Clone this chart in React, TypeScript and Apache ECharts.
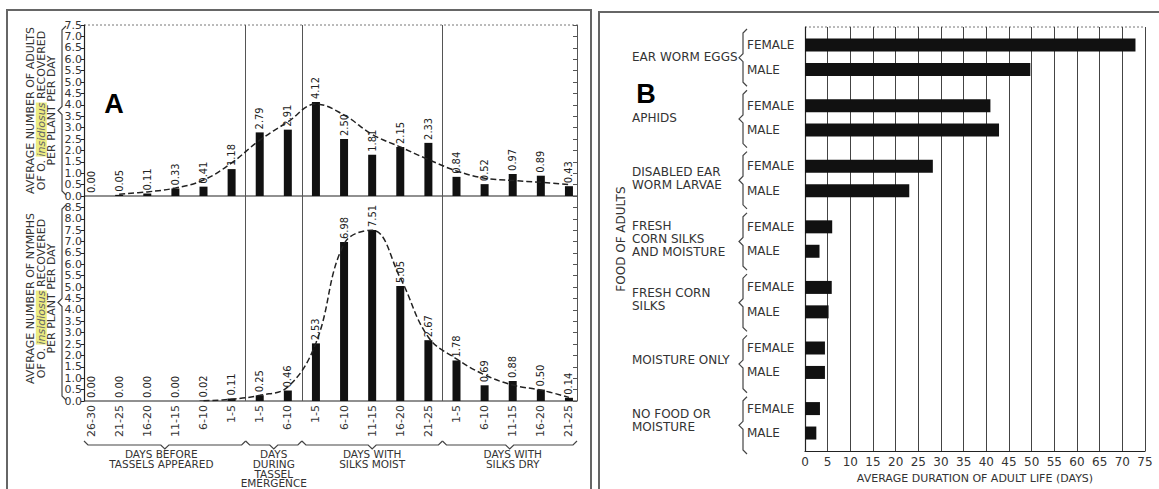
import React, { useEffect, useRef } from "react";
import * as echarts from "echarts";

// ---------------- Panel A data ----------------
const periods = ["26-30", "21-25", "16-20", "11-15", "6-10", "1-5", "1-5", "6-10", "1-5", "6-10", "11-15", "16-20", "21-25", "1-5", "6-10", "11-15", "16-20", "21-25"];
const adultsRecovered = [0.0, 0.05, 0.11, 0.33, 0.41, 1.18, 2.79, 2.91, 4.12, 2.5, 1.81, 2.15, 2.33, 0.84, 0.52, 0.97, 0.89, 0.43];
const adultsTrend = [null, 0.08, 0.18, 0.35, 0.7, 1.45, 2.45, 3.25, 4.03, 3.55, 2.7, 2.15, 1.6, 1.1, 0.78, 0.68, 0.6, 0.5];
const nymphsRecovered = [0.0, 0.0, 0.0, 0.0, 0.02, 0.11, 0.25, 0.46, 2.53, 6.98, 7.51, 5.05, 2.67, 1.78, 0.69, 0.88, 0.5, 0.14];
const nymphsTrend = [null, null, null, null, 0.01, 0.08, 0.25, 0.62, 2.55, 6.9, 7.5, 5.4, 2.8, 1.85, 1.15, 0.7, 0.48, 0.16];
const stageNames = ["DAYS BEFORE\nTASSELS APPEARED", "DAYS\nDURING\nTASSEL\nEMERGENCE", "DAYS WITH\nSILKS MOIST", "DAYS WITH\nSILKS DRY"];
const stageStart = [0, 6, 8, 13, 18];

// ---------------- Panel B data ----------------
const foods = ["EAR WORM EGGS", "APHIDS", "DISABLED EAR\nWORM LARVAE", "FRESH\nCORN SILKS\nAND MOISTURE", "FRESH CORN\nSILKS", "MOISTURE ONLY", "NO FOOD OR\nMOISTURE"];
const femaleLife = [72.9, 40.9, 28.2, 6.0, 5.9, 4.4, 3.3];
const maleLife = [49.7, 42.8, 23.0, 3.2, 5.2, 4.4, 2.5];

const SANS = "'DejaVu Sans', 'Noto Sans', sans-serif";
const NARROW = "'DejaVu Sans Condensed', 'Liberation Sans Narrow', 'DejaVu Sans', sans-serif";
const INK = "#222";
const TEXT = "#333";

// layout
const A_LEFT = 77;
const A_WIDTH = 506;
const A_AXIS_X = 84;
const A_RIGHT_X = 577;
const A_TOP = 25;
const A_MID = 196;
const A_BOTTOM = 401;
const BAND = A_WIDTH / periods.length;
const B_LEFT = 805;
const B_TOP = 27;
const B_WIDTH = 340;
const B_HEIGHT = 429;

const braceStyle = { stroke: "#444", fill: "none", lineWidth: 1.2 };
function hBrace(x1: number, x2: number, y: number) {
  const m = (x1 + x2) / 2;
  return {
    type: "polyline",
    silent: true,
    shape: { points: [[x1, y - 4], [x1 + 4, y], [m - 4, y], [m, y + 4], [m + 4, y], [x2 - 4, y], [x2, y - 4]] },
    style: braceStyle,
  };
}
function vBrace(x: number, y1: number, y2: number) {
  const m = (y1 + y2) / 2;
  return {
    type: "polyline",
    silent: true,
    shape: { points: [[x + 4, y1], [x, y1 + 4], [x, m - 4], [x - 4, m], [x, m + 4], [x, y2 - 4], [x + 4, y2]] },
    style: braceStyle,
  };
}
function hLine(x1: number, x2: number, y: number, dashed = false) {
  return {
    type: "line",
    silent: true,
    shape: { x1, y1: y, x2, y2: y },
    style: { stroke: dashed ? "#777" : INK, lineWidth: dashed ? 1 : 1.2, lineDash: dashed ? [2, 2] : null },
  };
}

const nameRich = {
  i: { fontStyle: "italic", backgroundColor: "#ecec82", color: "#666", fontSize: 11, lineHeight: 10.5, fontFamily: SANS },
};

function leftAxis(grid: number, max: number, name: string) {
  return {
    type: "value",
    gridIndex: grid,
    min: 0,
    max,
    interval: 0.5,
    position: "left",
    offset: A_LEFT - A_AXIS_X,
    axisLine: { show: true, lineStyle: { color: INK, width: 1.2 } },
    axisTick: { show: true, length: 3, lineStyle: { color: INK } },
    axisLabel: {
      margin: 2,
      fontSize: 11,
      lineHeight: 11,
      showMinLabel: true,
      showMaxLabel: true,
      color: TEXT,
      fontFamily: SANS,
      formatter: (v: number) => (v > 8.9 ? "" : v.toFixed(1)),
    },
    splitLine: { show: false },
    name,
    nameLocation: "middle",
    nameRotate: 90,
    nameGap: 27,
    nameTextStyle: { fontSize: 11, lineHeight: 10.5, color: TEXT, fontFamily: SANS, rich: nameRich },
  };
}
function rightAxis(grid: number, max: number) {
  return {
    type: "value",
    gridIndex: grid,
    min: 0,
    max,
    interval: 0.5,
    position: "right",
    offset: -(A_LEFT + A_WIDTH - A_RIGHT_X),
    axisLine: { show: true, lineStyle: { color: "#555", width: 1 } },
    axisTick: { show: true, inside: true, length: 4, lineStyle: { color: "#555" } },
    axisLabel: { show: false },
    splitLine: { show: false },
  };
}
function stageAxis(grid: number, showLabels: boolean) {
  return {
    type: "category",
    gridIndex: grid,
    data: periods.map((_, i) => String(i)),
    boundaryGap: true,
    axisLine: { show: false },
    axisTick: { show: false },
    axisLabel: {
      show: showLabels,
      interval: 0,
      rotate: 90,
      margin: 4,
      fontSize: 11,
      color: TEXT,
      fontFamily: SANS,
      formatter: (_: string, i: number) => periods[i],
    },
    splitLine: {
      show: true,
      interval: (i: number) => i > 0 && stageStart.indexOf(i) >= 0,
      showMaxLine: false,
      lineStyle: { color: "#555", width: 1 },
    },
  };
}
function barLabel() {
  return {
    show: true,
    position: "top",
    rotate: 90,
    align: "left",
    verticalAlign: "middle",
    distance: 3,
    fontSize: 11,
    color: INK,
    fontFamily: NARROW,
    formatter: (p: any) => Number(p.value).toFixed(2),
  };
}
function trend(data: (number | null)[], x: number, y: number) {
  return {
    type: "line",
    xAxisIndex: x,
    yAxisIndex: y,
    data,
    smooth: 0.4,
    symbol: "none",
    connectNulls: false,
    z: 5,
    lineStyle: { color: INK, width: 1.5, type: [6, 3] },
  };
}

const graphics: any[] = [
  { type: "rect", silent: true, shape: { x: 7, y: 10, width: 584, height: 500 }, style: { fill: "none", stroke: "#666", lineWidth: 2 } },
  { type: "rect", silent: true, shape: { x: 599, y: 12, width: 580, height: 500 }, style: { fill: "none", stroke: "#666", lineWidth: 2 } },
  { type: "text", silent: true, x: 114, y: 104, style: { text: "A", fill: "#000", fontSize: 27, fontWeight: "bold", fontFamily: "'Liberation Sans', Arial, sans-serif", align: "center", verticalAlign: "middle" } },
  { type: "text", silent: true, x: 646, y: 94, style: { text: "B", fill: "#000", fontSize: 27, fontWeight: "bold", fontFamily: "'Liberation Sans', Arial, sans-serif", align: "center", verticalAlign: "middle" } },
  hLine(A_AXIS_X, A_RIGHT_X, A_TOP, true),
  hLine(A_AXIS_X, A_RIGHT_X, A_MID),
  hLine(A_AXIS_X, A_RIGHT_X, A_BOTTOM),
  hLine(B_LEFT, B_LEFT + B_WIDTH, B_TOP, true),
  vBrace(62, A_TOP + 1, A_MID - 1),
  vBrace(62, A_MID + 9, A_BOTTOM - 1),
];
for (let g = 0; g < stageNames.length; g++) {
  const x1 = g === 0 ? A_AXIS_X : A_LEFT + BAND * stageStart[g];
  const x2 = g === stageNames.length - 1 ? A_RIGHT_X : A_LEFT + BAND * stageStart[g + 1];
  graphics.push(hBrace(x1, x2, 445));
  graphics.push({
    type: "text",
    silent: true,
    x: A_LEFT + (BAND * (stageStart[g] + stageStart[g + 1])) / 2,
    y: 449,
    style: { text: stageNames[g], fill: TEXT, fontSize: 10.5, lineHeight: 9.8, fontFamily: SANS, align: "center", verticalAlign: "top" },
  });
}
const bBand = B_HEIGHT / foods.length;
for (let g = 0; g < foods.length; g++) {
  graphics.push(vBrace(743, B_TOP + bBand * g + 2, B_TOP + bBand * (g + 1) - 2));
}

const option: any = {
  animation: false,
  backgroundColor: "#fff",
  grid: [
    { left: A_LEFT, top: A_TOP, width: A_WIDTH, height: A_MID - A_TOP },
    { left: A_LEFT, top: A_MID, width: A_WIDTH, height: A_BOTTOM - A_MID },
    { left: B_LEFT, top: B_TOP, width: B_WIDTH, height: B_HEIGHT },
  ],
  xAxis: [
    stageAxis(0, false),
    stageAxis(1, true),
    {
      type: "value",
      gridIndex: 2,
      min: 0,
      max: 75,
      interval: 5,
      axisLine: { show: true, lineStyle: { color: INK, width: 1.2 } },
      axisTick: { show: false },
      axisLabel: { fontSize: 12, color: TEXT, margin: 5, fontFamily: SANS },
      splitLine: { show: true, lineStyle: { color: "#444", width: 1 } },
      name: "AVERAGE DURATION OF ADULT LIFE (DAYS)",
      nameLocation: "middle",
      nameGap: 19,
      nameTextStyle: { fontSize: 11, color: TEXT, fontFamily: SANS },
    },
  ],
  yAxis: [
    leftAxis(0, 7.5, "AVERAGE NUMBER OF ADULTS\nOF O. {i|insidiosus} RECOVERED\nPER PLANT PER DAY"),
    rightAxis(0, 7.5),
    leftAxis(1, 9, "AVERAGE NUMBER OF NYMPHS\nOF O. {i|insidiosus} RECOVERED\nPER PLANT PER DAY"),
    rightAxis(1, 9),
    {
      type: "category",
      gridIndex: 2,
      data: foods,
      inverse: true,
      axisLine: { show: true, lineStyle: { color: INK, width: 1.2 } },
      axisTick: { show: false },
      axisLabel: { interval: 0, align: "left", margin: 173, fontSize: 12, lineHeight: 13, color: TEXT, fontFamily: SANS },
      splitLine: { show: false },
      name: "FOOD OF ADULTS",
      nameLocation: "middle",
      nameRotate: 90,
      nameGap: 178,
      nameTextStyle: { fontSize: 12, color: TEXT, fontFamily: SANS },
    },
  ],
  series: [
    { type: "bar", xAxisIndex: 0, yAxisIndex: 0, data: adultsRecovered, barWidth: 8, itemStyle: { color: "#111" }, label: barLabel() },
    trend(adultsTrend, 0, 0),
    { type: "bar", xAxisIndex: 1, yAxisIndex: 2, data: nymphsRecovered, barWidth: 8, itemStyle: { color: "#111" }, label: barLabel() },
    trend(nymphsTrend, 1, 2),
    {
      type: "bar",
      name: "FEMALE",
      xAxisIndex: 2,
      yAxisIndex: 4,
      data: femaleLife,
      barWidth: 13,
      barGap: "88%",
      itemStyle: { color: "#111" },
      label: { show: true, position: [-58, 6.5], formatter: "FEMALE", align: "left", verticalAlign: "middle", fontSize: 12, color: TEXT, fontFamily: SANS },
    },
    {
      type: "bar",
      name: "MALE",
      xAxisIndex: 2,
      yAxisIndex: 4,
      data: maleLife,
      barWidth: 13,
      barGap: "88%",
      itemStyle: { color: "#111" },
      label: { show: true, position: [-58, 6.5], formatter: "MALE", align: "left", verticalAlign: "middle", fontSize: 12, color: TEXT, fontFamily: SANS },
    },
  ],
  graphic: graphics,
};

export default function App() {
  const ref = useRef<HTMLDivElement>(null);
  useEffect(() => {
    const chart = echarts.init(ref.current!, null, { renderer: "svg" });
    chart.setOption(option);
    return () => chart.dispose();
  }, []);
  return <div ref={ref} style={{ position: "fixed", left: 0, top: 0, width: 1159, height: 489, background: "#fff" }} />;
}
